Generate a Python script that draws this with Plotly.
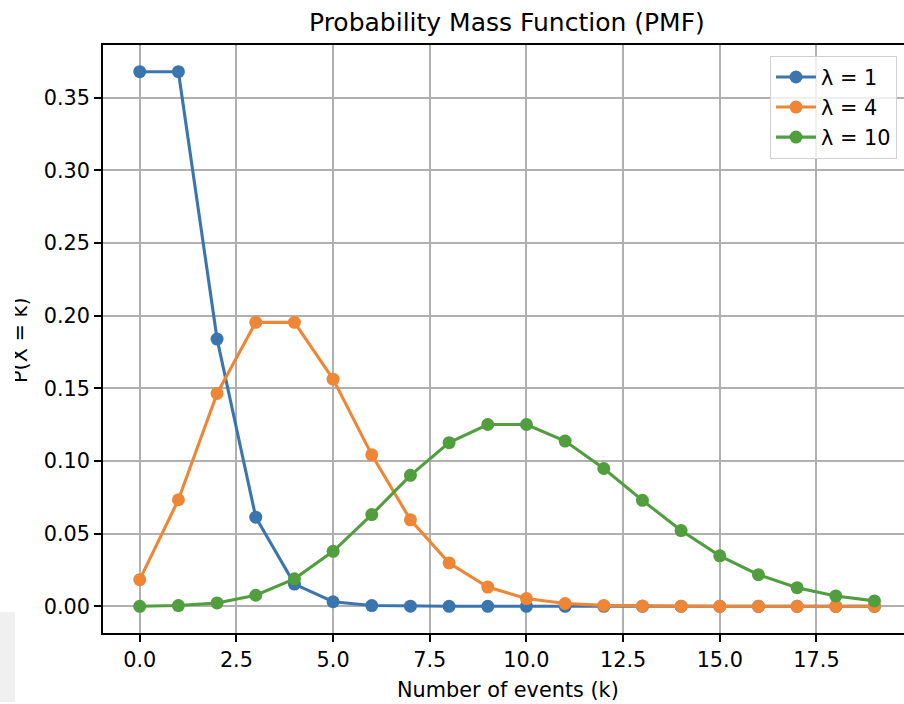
import plotly.graph_objects as go

k_values = list(range(20))
pmf_lambda_1 = [0.3679, 0.3679, 0.1839, 0.0613, 0.0153, 0.0031, 0.0005, 0.0001, 0.0000, 0.0000,
                0.0000, 0.0000, 0.0000, 0.0000, 0.0000, 0.0000, 0.0000, 0.0000, 0.0000, 0.0000]
pmf_lambda_4 = [0.0183, 0.0733, 0.1465, 0.1954, 0.1954, 0.1563, 0.1042, 0.0595, 0.0298, 0.0132,
                0.0053, 0.0019, 0.0006, 0.0002, 0.0001, 0.0000, 0.0000, 0.0000, 0.0000, 0.0000]
pmf_lambda_10 = [0.0000, 0.0005, 0.0023, 0.0076, 0.0189, 0.0378, 0.0631, 0.0901, 0.1126, 0.1251,
                 0.1251, 0.1137, 0.0948, 0.0729, 0.0521, 0.0347, 0.0217, 0.0128, 0.0071, 0.0037]
series_names = ["λ = 1", "λ = 4", "λ = 10"]
x_ticks = [0, 2.5, 5, 7.5, 10, 12.5, 15, 17.5]
x_tick_labels = ["0.0", "2.5", "5.0", "7.5", "10.0", "12.5", "15.0", "17.5"]
y_ticks = [0, 0.05, 0.10, 0.15, 0.20, 0.25, 0.30, 0.35]
y_tick_labels = ["0.00", "0.05", "0.10", "0.15", "0.20", "0.25", "0.30", "0.35"]

colors = ["#3b75af", "#ef8636", "#519e3e"]
FONT = "DejaVu Sans"

# plot area in pixels
L, R, T, B = 103, 904, 45, 633
W, H = 904, 704
pw, ph = R - L, B - T


def px(x):
    return (x - L) / pw


def py(y):
    return (B - y) / ph


fig = go.Figure()
for vals, name, col in zip([pmf_lambda_1, pmf_lambda_4, pmf_lambda_10], series_names, colors):
    fig.add_trace(go.Scatter(
        x=k_values, y=vals, name=name, mode="lines+markers",
        line=dict(color=col, width=3.1),
        marker=dict(color=col, size=13, line=dict(width=0)),
    ))

axis_common = dict(
    showgrid=True, gridcolor="#b0b0b0", gridwidth=1.6,
    zeroline=False, showline=True, linecolor="black", linewidth=1.7,
    ticks="outside", ticklen=7, tickwidth=1.7, tickcolor="black",
    tickfont=dict(family=FONT, size=20.8, color="black"),
)

fig.update_layout(
    width=W, height=H,
    margin=dict(l=L, r=W - R, t=T, b=H - B),
    paper_bgcolor="white", plot_bgcolor="white",
    font=dict(family=FONT, color="black"),
    xaxis=dict(range=[-0.95, -0.95 + pw / 38.67], tickvals=x_ticks, ticktext=x_tick_labels,
               mirror=True, **axis_common),
    yaxis=dict(range=[-0.01839, 0.38626], tickvals=y_ticks, ticktext=y_tick_labels,
               mirror=False, **axis_common),
    showlegend=True,
    legend=dict(
        x=px(897), y=py(56), xanchor="right", yanchor="top",
        bgcolor="rgba(255,255,255,0.8)", bordercolor="#d0d0d0", borderwidth=1,
        font=dict(family=FONT, size=20.8, color="black"),
        itemwidth=40,
    ),
)

annotations = [
    dict(text="Probability Mass Function (PMF)", x=px(507), y=py(22), xref="paper", yref="paper",
         xanchor="center", yanchor="middle", showarrow=False,
         font=dict(family=FONT, size=25, color="black")),
    dict(text="Number of events (k)", x=px(508), y=py(690), xref="paper", yref="paper",
         xanchor="center", yanchor="middle", showarrow=False,
         font=dict(family=FONT, size=20.8, color="black")),
    dict(text="P(X = k)", x=px(20), y=py(340), xref="paper", yref="paper",
         xanchor="center", yanchor="middle", showarrow=False, textangle=-90,
         font=dict(family=FONT, size=20.8, color="black")),
    dict(text=" ", x=px(0), y=py(250), xref="paper", yref="paper",
         xanchor="left", yanchor="top", showarrow=False, width=15, height=180,
         bgcolor="white", borderpad=0, borderwidth=0),
]
fig.update_layout(annotations=annotations)

fig.add_shape(type="rect", xref="paper", yref="paper",
              x0=px(0), x1=px(15), y0=py(702), y1=py(612),
              fillcolor="#f0f0f0", line=dict(width=0), layer="below")

fig.write_html("out.html", config={"displayModeBar": False},
               post_script="document.body.style.margin='0';document.body.style.overflow='hidden';")
